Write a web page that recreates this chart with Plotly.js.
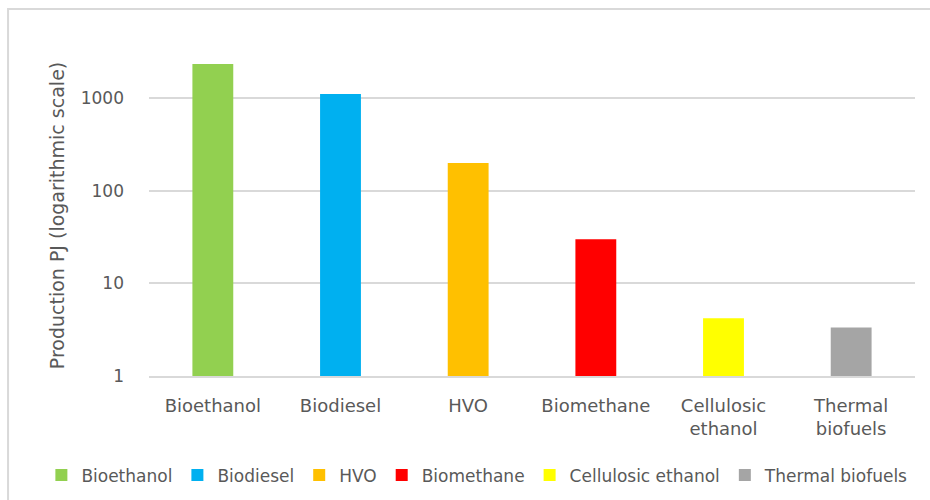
<!DOCTYPE html>
<html>
<head>
<meta charset="utf-8">
<script src="https://cdn.plot.ly/plotly-3.0.1.min.js"></script>
<style>
  html, body { margin: 0; padding: 0; background: #fff; }
  #chart { width: 930px; height: 500px; }
</style>
</head>
<body>
<div id="chart"></div>
<script>
// Data
const categories = ["Bioethanol", "Biodiesel", "HVO", "Biomethane", "Cellulosic ethanol", "Thermal biofuels"];
const tickLabels = ["Bioethanol", "Biodiesel", "HVO", "Biomethane", "Cellulosic<br>ethanol", "Thermal<br>biofuels"];
const production = [2350, 1110, 200, 30, 4.2, 3.35];
const colors = ["#92D050", "#00B0F0", "#FFC000", "#FF0000", "#FFFF00", "#A5A5A5"];
const yTickVals = [1, 10, 100, 1000];
const yTickText = ["1", "10", "100", "1000"];

const fontFam = "DejaVu Sans, sans-serif";
const textColor = "#595959";

const traces = categories.map((c, i) => ({
  type: "bar",
  name: c,
  x: [tickLabels[i]],
  y: [production[i]],
  marker: { color: colors[i] },
  width: 0.32,
  hoverinfo: "x+y"
}));

const layout = {
  width: 930,
  height: 500,
  margin: { l: 149, r: 15, t: 55, b: 124.3, autoexpand: false },
  paper_bgcolor: "#ffffff",
  plot_bgcolor: "#ffffff",
  barmode: "overlay",
  font: { family: fontFam, color: textColor, size: 17 },
  xaxis: {
    type: "category",
    categoryorder: "array",
    categoryarray: tickLabels,
    showgrid: false,
    showline: true,
    linecolor: "#d9d9d9",
    linewidth: 2,
    ticks: "",
    ticklabelstandoff: 12,
    tickfont: { family: fontFam, color: textColor, size: 18 },
    fixedrange: true
  },
  yaxis: {
    type: "log",
    range: [0, 3.468],
    tickvals: yTickVals,
    ticktext: yTickText,
    showgrid: true,
    gridcolor: "#d9d9d9",
    gridwidth: 2,
    zeroline: false,
    showline: false,
    ticks: "",
    ticklabelstandoff: 24,
    tickfont: { family: fontFam, color: textColor, size: 17 },
    title: { text: "Production PJ (logarithmic scale)", font: { family: fontFam, color: textColor, size: 19 }, standoff: 11 },
    fixedrange: true
  },
  showlegend: true,
  legend: {
    orientation: "h",
    xref: "paper",
    yref: "paper",
    x: -0.1405,
    xanchor: "left",
    y: -0.3096,
    yanchor: "middle",
    itemwidth: 30,
    font: { family: fontFam, color: textColor, size: 17 },
    traceorder: "normal"
  },
  shapes: [{
    type: "rect",
    xref: "paper",
    yref: "paper",
    x0: -0.184, x1: 2,
    y0: -2, y1: 1.1434,
    line: { color: "#d9d9d9", width: 2 },
    fillcolor: "rgba(0,0,0,0)",
    layer: "below"
  }]
};

Plotly.newPlot("chart", traces, layout, { displayModeBar: false, staticPlot: true });
</script>
</body>
</html>
